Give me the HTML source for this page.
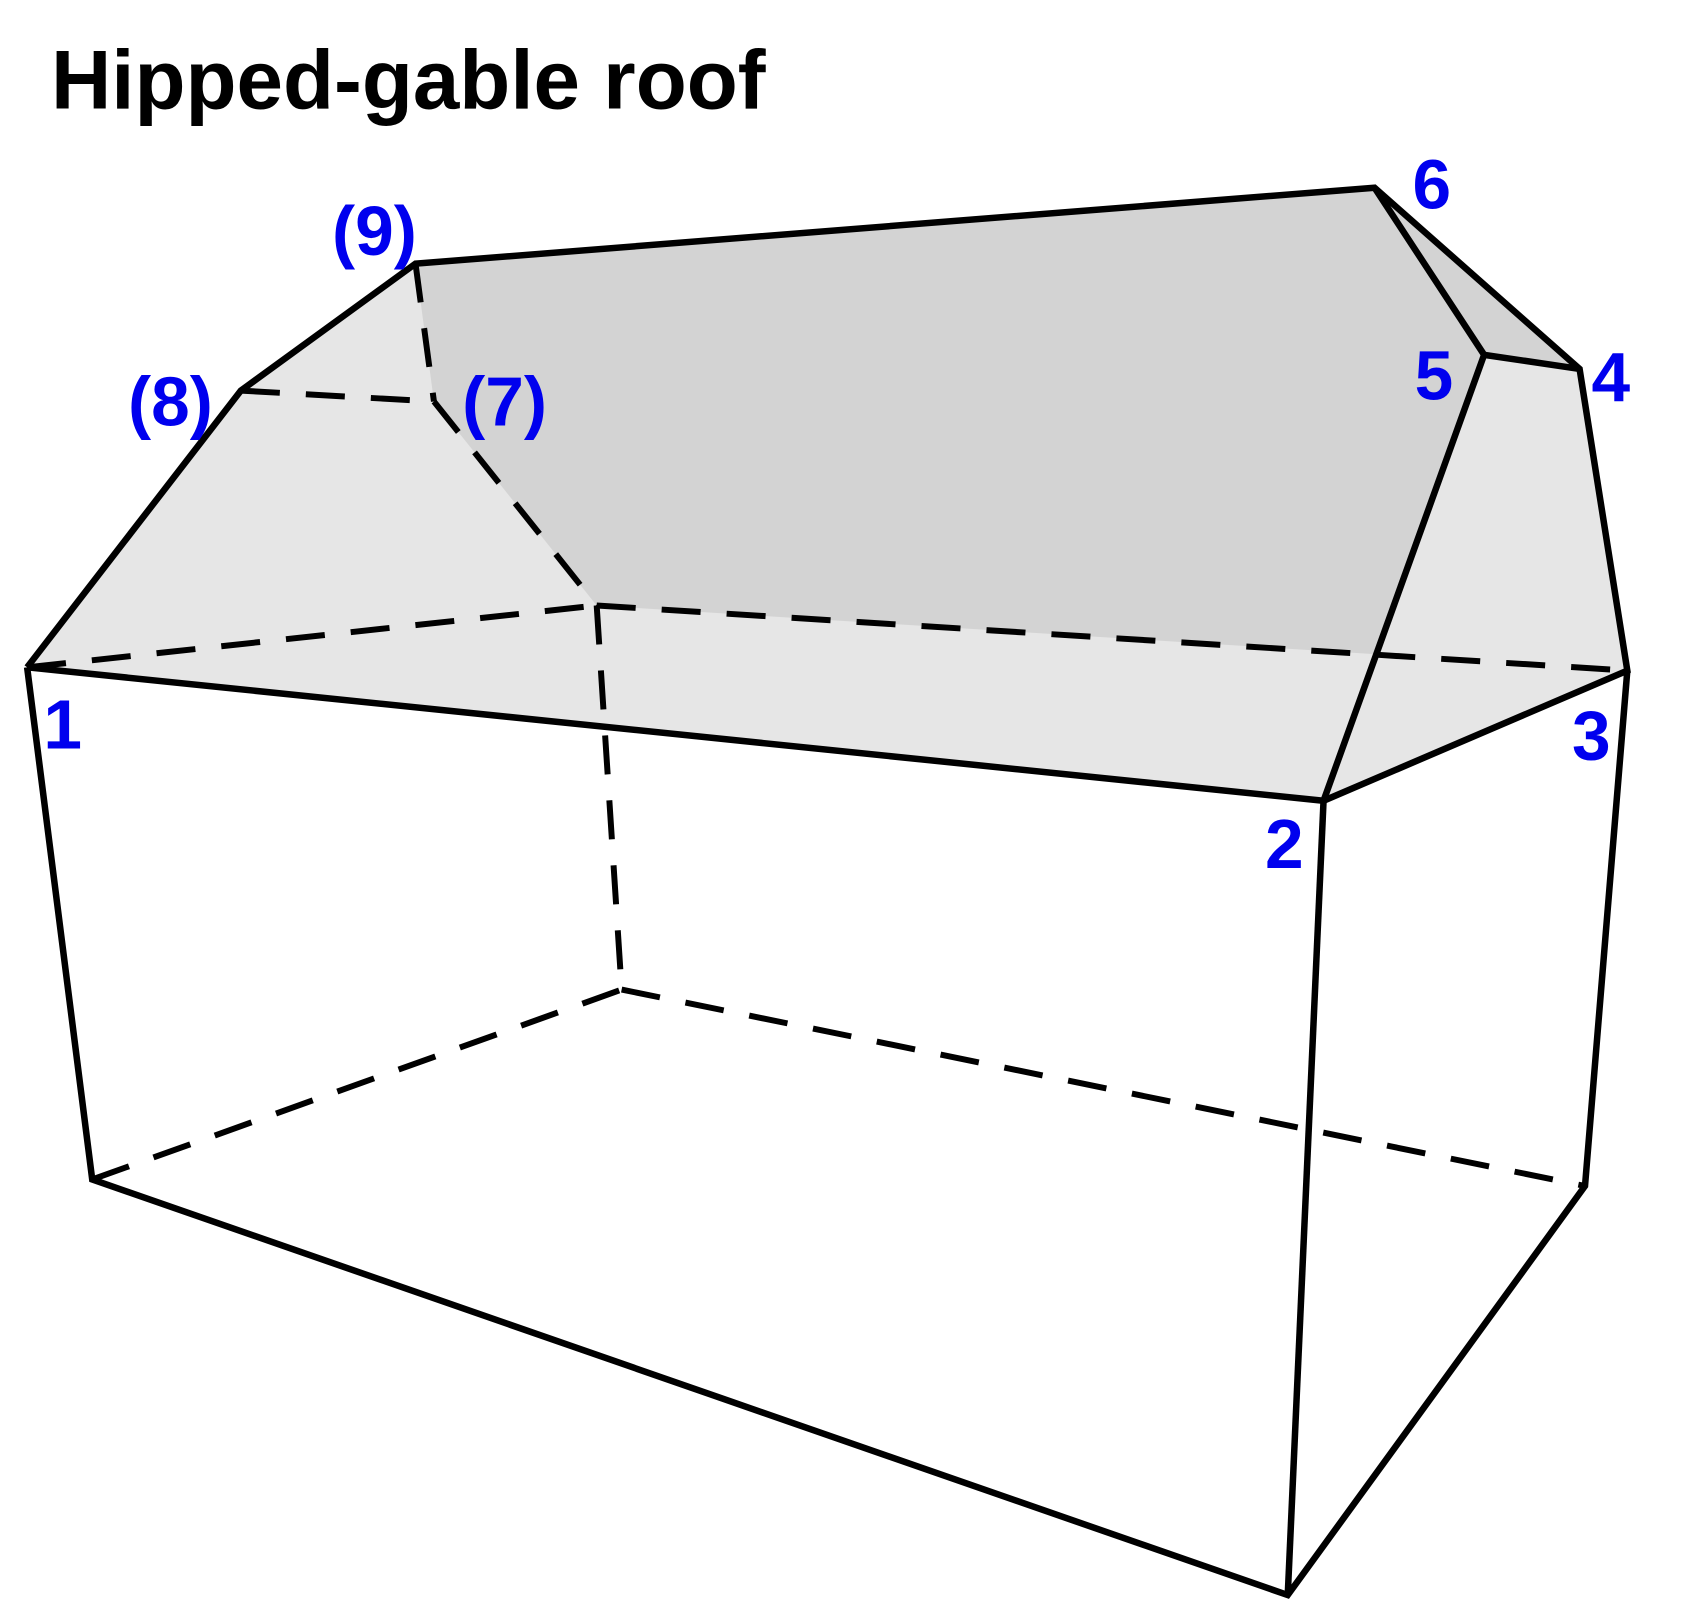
<!DOCTYPE html>
<html><head><style>html,body{margin:0;padding:0;background:#fff}svg{display:block}</style></head>
<body>
<svg width="1700" height="1620" viewBox="0 0 1567 1493" preserveAspectRatio="none" xmlns="http://www.w3.org/2000/svg">
<text x="47" y="100" font-family="Liberation Sans, sans-serif" font-weight="bold" font-size="77" fill="#000">Hipped-gable roof</text>
<polygon points="25,615 222,360 383,243 1267,173 1456,340 1500,618 1220,738" fill="#e6e6e6"/>
<polygon points="383,243 1267,173 1456,340 1368,327 1269,603 550,558 400,370" fill="#d3d3d3"/>
<g stroke="#000" stroke-width="5.5" fill="none" stroke-dasharray="36,24">
<line x1="25" y1="615" x2="550" y2="558"/>
<line x1="550" y1="558" x2="1500" y2="618"/>
<line x1="550" y1="558" x2="573" y2="912"/>
<line x1="400" y1="370" x2="550" y2="558"/>
<line x1="222" y1="360" x2="400" y2="370"/>
<line x1="383" y1="243" x2="400" y2="370"/>
<line x1="85" y1="1087" x2="573" y2="912"/>
<line x1="573" y1="912" x2="1461" y2="1093"/>
</g>
<g stroke="#000" stroke-width="6" fill="none" stroke-linejoin="miter">
<polyline points="25,615 222,360 383,243 1267,173 1456,340 1500,618 1220,738 25,615"/>
<polyline points="1267,173 1368,327 1456,340"/>
<line x1="1368" y1="327" x2="1220" y2="738"/>
<polyline points="25,615 85,1087 1187,1470 1461,1093 1500,618"/>
<line x1="1220" y1="738" x2="1187" y2="1470"/>
</g>
<g font-family="Liberation Sans, sans-serif" font-weight="bold" font-size="64" fill="#0000ee">
<text x="40" y="690">1</text>
<text x="1166" y="800">2</text>
<text x="1449" y="700">3</text>
<text x="1467" y="370">4</text>
<text x="1304" y="368">5</text>
<text x="1302" y="192">6</text>
<text x="426" y="392">(7)</text>
<text x="118" y="392">(8)</text>
<text x="306" y="235">(9)</text>
</g>
</svg>
</body></html>
